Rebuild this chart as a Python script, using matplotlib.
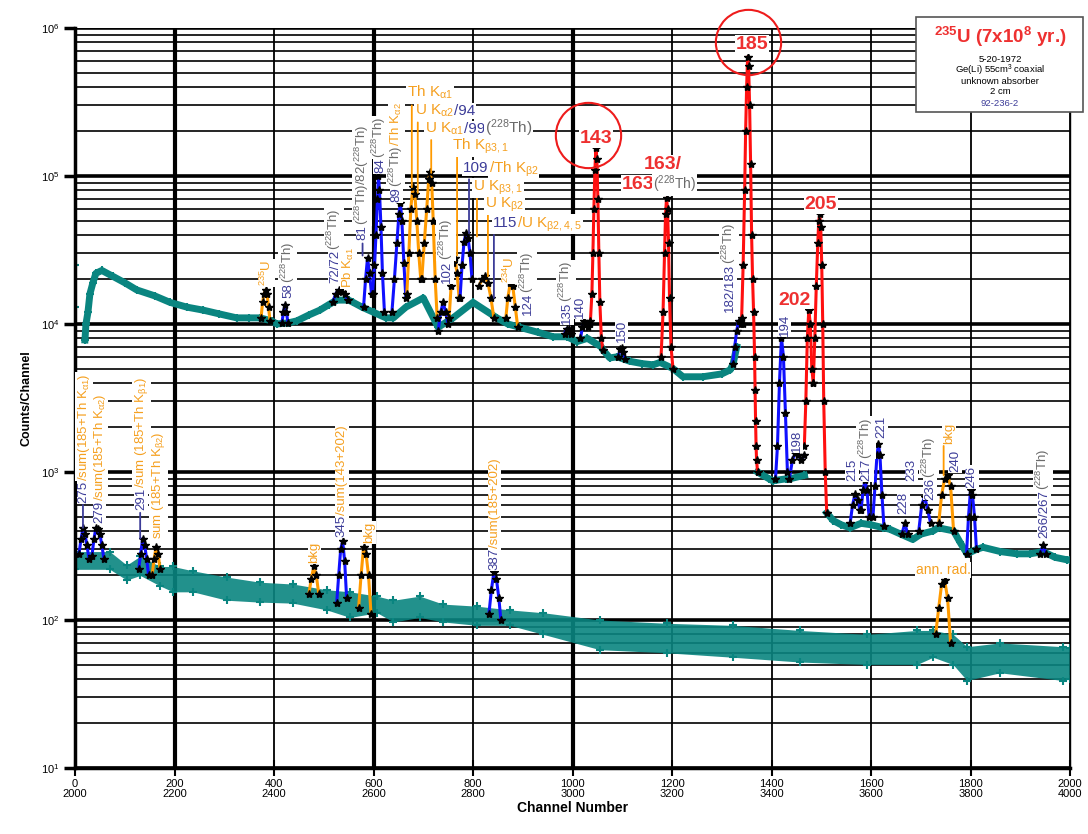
import numpy as np
import matplotlib
matplotlib.use('Agg')
import matplotlib.pyplot as plt
from matplotlib.patches import Rectangle
from matplotlib.transforms import ScaledTranslation

plt.rcParams['font.family'] = ['Liberation Sans', 'DejaVu Sans']
plt.rcParams['mathtext.fontset'] = 'custom'
plt.rcParams['mathtext.rm'] = 'Liberation Sans'
plt.rcParams['mathtext.it'] = 'Liberation Sans:italic'
plt.rcParams['mathtext.bf'] = 'Liberation Sans:bold'
plt.rcParams['mathtext.default'] = 'regular'

# ---- data ----
# upper trace: channels 0-2000 (continuum, nan = gap / hidden under big peaks)
upper_ch = [0, 0.5, 1, 19, 20, 22, 26, 30, 36, 42, 54, 76, 100, 124, 160, 191, 225, 258, 290, 325, 350, 372,
            395, 406, 430, 446, 470, 492, 510, 526, 550, 559, 577, 600, 625, 640, 665, 700, 730, 760,
            800, 848, 870, 894, 930, 961, 989, 1009, 1030, 1058, 1061, 1075, 1090, 1115, 1140, 1162,
            1176, 1202, 1222, 1262, 1300, 1317, 1323, 1330, 1350, 1372, 1383, 1395, 1403, 1410, 1430,
            1437, 1466, 1490, 1511, 1524, 1540, 1558, 1580, 1600, 1625, 1638, 1660, 1684, 1700, 1725,
            1735, 1766, 1779, 1793, 1812, 1825, 1860, 1893, 1920, 1946, 1970, 1994, 2000]
upper_counts = [2.5e4, np.nan, 1.3e4, np.nan, 7.8e3, 1.0e4, 1.2e4, 1.6e4, 1.9e4, 2.2e4, 2.3e4, 2.1e4, 1.9e4, 1.7e4,
                1.55e4, 1.4e4, 1.3e4, 1.24e4, 1.17e4, 1.1e4, 1.1e4, 1.1e4, 1.05e4, 1.0e4, 1.02e4,
                1.05e4, 1.15e4, 1.24e4, 1.35e4, 1.45e4, 1.45e4, 1.4e4, 1.3e4, 1.2e4, 1.1e4, 1.1e4,
                1.3e4, 1.5e4, 9.5e3, 1.1e4, 1.4e4, 1.1e4, 1.0e4, 9.5e3, 8.8e3, 8.2e3, 8.2e3, 7.6e3,
                8.0e3, 7.0e3, 6.7e3, 5.9e3, 6.0e3, 5.6e3, 5.4e3, 5.3e3, 5.5e3, 5.0e3, 4.4e3, 4.4e3,
                4.6e3, 4.9e3, 5.4e3, 7.0e3, np.nan, 1.0e3, 950, 900, 870, 880, 900, 900, 950, np.nan,
                530, 470, 440, 420, 450, 440, 420, 410, 380, 350, 380, 400, 420, 400, 335, 280, 300,
                310, 290, 280, 280, 290, 265, 255, 255]

# lower trace: channels 2000-4000 drawn on the same 0-2000 axis, as a scatter band
lower_ch = [0, 70, 104, 131, 171, 197, 237, 305, 372, 438, 506, 553, 607, 640, 693, 740, 808, 874,
            941, 1055, 1190, 1323, 1457, 1592, 1692, 1725, 1765, 1793, 1859, 1986, 2000]
lower_lo = [220, 220, 186, 200, 170, 155, 155, 136, 132, 130, 117, 104, 112, 97, 104, 97, 92, 92,
            80, 63, 60, 56, 52, 50, 50, 56, 50, 39, 44, 39, 40]
lower_hi = [290, 290, 235, 270, 230, 230, 215, 195, 180, 175, 160, 155, 145, 136, 145, 128, 124, 117,
            112, 100, 95, 92, 85, 80, 85, 85, 80, 66, 70, 66, 65]

# peaks of the upper trace: channel list, counts list
upper_peaks = {
    'U235':  ([374, 377, 380, 383, 386, 389, 392], [1.1e4, 1.4e4, 1.6e4, 1.7e4, 1.6e4, 1.3e4, 1.05e4]),
    '58':    ([416, 419, 422, 425, 428], [1.02e4, 1.2e4, 1.35e4, 1.2e4, 1.02e4]),
    '72':    ([518, 524, 530, 536, 542, 548], [1.4e4, 1.6e4, 1.7e4, 1.65e4, 1.6e4, 1.45e4]),
    '81':    ([580, 584, 588, 592, 596], [1.3e4, 2.0e4, 2.8e4, 2.2e4, 1.6e4]),
    '84':    ([598, 602, 605, 608, 610, 612, 615, 618, 622], [1.6e4, 2.5e4, 4e4, 7e4, 1.0e5, 8e4, 4.5e4, 2.2e4, 1.2e4]),
    '89':    ([637, 642, 647, 651, 654, 657, 661, 665], [1.2e4, 2e4, 3.5e4, 5.5e4, 6.6e4, 5e4, 2.6e4, 1.5e4]),
    '94':    ([667, 671, 675, 679, 683, 687, 691, 695], [1.6e4, 3e4, 6e4, 8.4e4, 7.5e4, 5e4, 3e4, 2e4]),
    '99':    ([697, 702, 707, 711, 714, 717, 720, 724, 728], [2e4, 3.5e4, 6e4, 9.5e4, 1.07e5, 9e4, 5e4, 2e4, 1.1e4]),
    '102':   ([730, 735, 740, 745, 750], [9e3, 1.2e4, 1.4e4, 1.2e4, 1.0e4]),
    '105':   ([752, 756, 760, 764, 768, 772], [1.1e4, 1.8e4, 2.6e4, 2.8e4, 2.2e4, 1.5e4]),
    '109':   ([774, 778, 782, 786, 790, 794, 798], [1.5e4, 2.5e4, 3.6e4, 4.1e4, 3.8e4, 3e4, 2e4]),
    '112':   ([812, 818, 824, 830, 836, 842], [1.8e4, 2e4, 2.1e4, 1.9e4, 1.5e4, 1.1e4]),
    '124':   ([866, 870, 875, 880, 885, 890], [1.1e4, 1.5e4, 1.9e4, 1.8e4, 1.3e4, 9.5e3]),
    '135':   ([984, 988, 992, 996], [8.6e3, 9.3e3, 9.2e3, 8.5e3]),
    '140':   ([1016, 1020, 1024, 1028, 1032, 1036], [8e3, 9.5e3, 1.05e4, 1.0e4, 9.5e3, 1.0e4]),
    '143':   ([1036, 1039, 1041, 1043, 1045, 1047, 1049, 1051, 1053, 1055, 1058, 1061],
              [1.05e4, 1.6e4, 3e4, 6e4, 1.1e5, 1.55e5, 1.3e5, 7e4, 3e4, 1.4e4, 8e3, 6.7e3]),
    '150':   ([1092, 1096, 1099, 1102, 1106], [6e3, 6.8e3, 6.9e3, 6.5e3, 5.8e3]),
    '163':   ([1178, 1182, 1185, 1187, 1189, 1191, 1193, 1195, 1198, 1202],
              [6e3, 1.2e4, 3e4, 5.5e4, 7.1e4, 6e4, 3.5e4, 1.5e4, 7e3, 5e3]),
    '182':   ([1322, 1326, 1330, 1334, 1338, 1342], [5.4e3, 7e3, 9e3, 1.05e4, 1.0e4, 1.0e4]),
    '185':   ([1340, 1343, 1346, 1348, 1350, 1352, 1354, 1356, 1358, 1360, 1362, 1364, 1366, 1367, 1368, 1369, 1370, 1372],
              [1.1e4, 2.5e4, 8e4, 2e5, 4e5, 6.4e5, 5.5e5, 3e5, 1.2e5, 4e4, 2e4, 1.2e4, 6e3, 3.6e3, 2.2e3, 1.5e3, 1.2e3, 1.0e3]),
    '194':   ([1408, 1412, 1416, 1420, 1424, 1428, 1432], [900, 1.5e3, 4e3, 8.1e3, 6e3, 2.5e3, 1e3]),
    '198':   ([1436, 1442, 1448, 1454, 1460, 1466], [900, 1.2e3, 1.35e3, 1.3e3, 1.2e3, 1.3e3]),
    '202':   ([1466, 1469, 1472, 1475, 1478, 1481, 1484], [1.5e3, 3e3, 8e3, 1.24e4, 1e4, 5e3, 4e3]),
    '205':   ([1484, 1487, 1490, 1493, 1495, 1497, 1499, 1501, 1503, 1505, 1508, 1511],
              [4e3, 8e3, 1.8e4, 3.5e4, 5e4, 5.5e4, 4.5e4, 2.5e4, 1e4, 3e3, 1e3, 530]),
    '215':   ([1558, 1563, 1568, 1573, 1578], [450, 600, 710, 650, 550]),
    '217':   ([1580, 1584, 1588, 1592, 1596], [550, 750, 880, 750, 500]),
    '221':   ([1604, 1608, 1612, 1615, 1618, 1622, 1626], [500, 800, 1.3e3, 1.55e3, 1.3e3, 700, 430]),
    '228':   ([1662, 1668, 1674], [380, 450, 380]),
    '236':   ([1696, 1702, 1708, 1714, 1720], [400, 600, 680, 550, 450]),
    '240':   ([1736, 1742, 1748, 1754, 1760, 1766], [450, 700, 900, 950, 800, 400]),
    '246':   ([1792, 1796, 1800, 1804, 1808, 1812], [280, 500, 750, 700, 500, 300]),
    '266':   ([1940, 1946, 1952], [280, 320, 280]),
}
# peaks of the lower trace (channel - 2000)
lower_peaks = {
    '275':   ([8, 12, 16, 20, 24, 28], [280, 350, 420, 380, 320, 260]),
    '279':   ([34, 38, 42, 46, 50, 54, 58], [270, 350, 420, 410, 380, 320, 260]),
    '291':   ([128, 132, 136, 140, 144, 148], [220, 280, 355, 320, 260, 200]),
    '292':   ([155, 159, 163, 167, 171], [200, 260, 310, 280, 220]),
    'bkg1':  ([470, 475, 480, 485, 490], [150, 190, 230, 200, 150]),
    '345':   ([526, 530, 534, 538, 542, 546], [130, 200, 300, 340, 250, 140]),
    'bkg2':  ([570, 575, 580, 585, 590, 595], [120, 200, 310, 280, 200, 110]),
    '387':   ([832, 837, 842, 847, 852, 856], [110, 160, 210, 190, 140, 100]),
    'ann':   ([1730, 1736, 1742, 1748, 1754, 1760], [80, 120, 175, 186, 140, 70]),
}

# ---- styles ----
TEAL = '#0a8580'
LRED, LBLUE, LORANGE = '#ff1010', '#1010ff', '#ff9a00'
TRED, TBLUE, TORANGE, TGRAY = '#ee3030', '#3c3c98', '#f5a020', '#6a6a6a'
red_peaks = {'143', '163', '185', '202', '205'}
orange_peaks = {'U235', '94', '99', '105', '112', '124', '240', '292', 'bkg1', 'bkg2', 'ann'}

def peak_color(name):
    if name in red_peaks:
        return LRED
    if name in orange_peaks:
        return LORANGE
    return LBLUE

fig = plt.figure(figsize=(10.88, 8.34), dpi=100)
ax = fig.add_axes([75 / 1088, 1 - 768 / 834, 995 / 1088, 740 / 834])
ax.set_yscale('log')
ax.set_xlim(0, 2000)
ax.set_ylim(10, 1e6)
ax.set_axisbelow(True)

# grid
ax.grid(which='major', axis='y', color='k', lw=2.6)
ax.grid(which='minor', axis='y', color='k', lw=1.2)
xt = np.arange(0, 2001, 200)
ax.set_xticks(xt)
ax.set_xticklabels([f'{v}\n{v + 2000}' for v in xt], fontsize=8, linespacing=0.95)
ax.grid(which='major', axis='x', color='k', lw=1.3)
for v, gl in zip(xt, ax.get_xgridlines()):
    if v in (200, 600, 1000):
        gl.set_linewidth(3)
ax.tick_params(axis='x', direction='inout', length=12, width=1.5, pad=2)
ax.tick_params(axis='y', which='major', direction='out', length=8, width=2.5, labelsize=8, pad=3)
ax.tick_params(axis='y', which='minor', length=0)
ax.spines['top'].set_visible(False)
ax.spines['left'].set_linewidth(2.5)
ax.spines['bottom'].set_linewidth(2.5)
ax.spines['right'].set_linewidth(1.0)
ax.set_ylabel('Counts/Channel', fontsize=9, fontweight='bold', labelpad=6)
ax.set_xlabel('Channel Number', fontsize=10, fontweight='bold', labelpad=2)

# lower spectrum band
ax.fill_between(lower_ch, lower_lo, lower_hi, color=TEAL, alpha=0.9, lw=0, zorder=2)
ax.plot(lower_ch, lower_lo, ls='none', marker='+', ms=6, mew=1.5, color=TEAL, zorder=2)
ax.plot(lower_ch, lower_hi, ls='none', marker='+', ms=6, mew=1.5, color=TEAL, zorder=2)

# upper spectrum continuum
ax.plot(upper_ch, upper_counts, color=TEAL, lw=5, marker='+', ms=6, mew=1.5, zorder=2)

for peaks in (upper_peaks, lower_peaks):
    for name, (ch, ct) in peaks.items():
        ax.plot(ch, ct, color=peak_color(name), lw=2.2, zorder=3)
        ax.plot(ch, ct, ls='none', marker='*', ms=6, color='k', zorder=4)

# ---- labels ----
fig.canvas.draw()
renderer = fig.canvas.get_renderer()
BOX = dict(facecolor='white', edgecolor='none', pad=0.6)

def label(ch, cnt, parts, rot=0, size=10, weight='normal', center=False):
    arts = []
    for s, c in parts:
        t = ax.text(ch, cnt, s, color=c, fontsize=size, fontweight=weight, rotation=rot,
                    rotation_mode='anchor', ha='left', va='baseline', bbox=BOX, zorder=7)
        arts.append(t)
    sizes = []
    for t in arts:
        bb = t.get_window_extent(renderer)
        sizes.append(bb.width if rot == 0 else bb.height)
    off = -sum(sizes) / 2 if center else 0.0
    perp = 0.36 * size * fig.dpi / 72 if rot == 90 else 0.0
    for t, w in zip(arts, sizes):
        dx, dy = (off, 0) if rot == 0 else (perp, off)
        t.set_transform(ax.transData + ScaledTranslation(dx / fig.dpi, dy / fig.dpi, fig.dpi_scale_trans))
        off += w

TH = '($^{228}$Th)'
# vertical labels: (channel, counts at bottom, parts)
vlabels_upper = [
    (384, 1.8e4, [('$^{235}$U', TORANGE)]),
    (426, 1.5e4, [('58', TBLUE), (TH, TGRAY)]),
    (519, 1.9e4, [('72/72', TBLUE), (TH, TGRAY)]),
    (547, 1.75e4, [('Pb K$_{\\alpha1}$', TORANGE)]),
    (575, 3.7e4, [('81', TBLUE), (TH + '/82' + TH, TGRAY)]),
    (610, 1.05e5, [('84', TBLUE), (TH, TGRAY)]),
    (643, 6.7e4, [('89', TBLUE), (TH, TGRAY), ('/Th K$_{\\alpha2}$', TORANGE)]),
    (744, 1.9e4, [('102', TBLUE), (TH, TGRAY)]),
    (872, 1.9e4, [('$^{234}$U', TORANGE)]),
    (907, 1.15e4, [('124', TBLUE), (TH, TGRAY)]),
    (985, 1.0e4, [('135', TBLUE), (TH, TGRAY)]),
    (1011, 1.1e4, [('140', TBLUE)]),
    (1095, 7.5e3, [('150', TBLUE)]),
    (1313, 1.2e4, [('182/183', TBLUE), (TH, TGRAY)]),
    (1423, 8.3e3, [('194', TBLUE)]),
    (1447, 1.37e3, [('198', TBLUE)]),
    (1558, 870, [('215', TBLUE)]),
    (1588, 870, [('217', TBLUE), (TH, TGRAY)]),
    (1618, 1.7e3, [('221', TBLUE)]),
    (1662, 520, [('228', TBLUE)]),
    (1678, 870, [('233', TBLUE)]),
    (1715, 650, [('236', TBLUE), (TH, TGRAY)]),
    (1753, 1.55e3, [('bkg', TORANGE)]),
    (1765, 1.0e3, [('240', TBLUE)]),
    (1799, 780, [('246', TBLUE)]),
    (1944, 360, [('266/267', TBLUE), (TH, TGRAY)]),
]
vlabels_lower = [
    (14, 620, [('275', TBLUE), ('/sum(185+Th K$_{\\alpha1}$)', TORANGE)]),
    (46, 450, [('279', TBLUE), ('/sum(185+Th K$_{\\alpha2}$)', TORANGE)]),
    (129, 550, [('291', TBLUE), ('/sum (185+Th K$_{\\beta1}$)', TORANGE)]),
    (163, 350, [('sum (185+Th K$_{\\beta2}$)', TORANGE)]),
    (478, 243, [('bkg', TORANGE)]),
    (533, 364, [('345', TBLUE), ('/sum(143+202)', TORANGE)]),
    (587, 331, [('bkg', TORANGE)]),
    (840, 218, [('387', TBLUE), ('/sum(185+202)', TORANGE)]),
]
# horizontal labels: (channel at left, counts at baseline, parts)
hlabels = [
    (667, 3.42e5, [('Th K$_{\\alpha1}$', TORANGE)]),
    (683, 2.58e5, [('U K$_{\\alpha2}$', TORANGE), ('/94', TBLUE)]),
    (703, 1.95e5, [('U K$_{\\alpha1}$', TORANGE), ('/99', TBLUE), (TH, TGRAY)]),
    (758, 1.5e5, [('Th K$_{\\beta3,1}$', TORANGE)]),
    (780, 1.06e5, [('109', TBLUE), ('/Th K$_{\\beta2}$', TORANGE)]),
    (800, 8.0e4, [('U K$_{\\beta3,1}$', TORANGE)]),
    (824, 6.1e4, [('U K$_{\\beta2}$', TORANGE)]),
    (840, 4.5e4, [('115', TBLUE), ('/U K$_{\\beta2,4,5}$', TORANGE)]),
]
# leader lines: (channel, counts from, counts to, colour)
leaders = [
    (677, 3.0e5, 8.4e4, LORANGE), (689, 2.3e5, 7.7e4, LORANGE), (716, 1.75e5, 1.05e5, LORANGE),
    (768, 1.35e5, 2.9e4, LORANGE), (792, 9.5e4, 4.1e4, TBLUE), (808, 7.2e4, 3.9e4, LORANGE),
    (830, 5.5e4, 2.1e4, LORANGE), (842, 4.0e4, 1.5e4, TBLUE), (578, 3.5e4, 2.9e4, TBLUE),
    (1746, 1.5e3, 950, LORANGE), (16, 600, 420, TBLUE), (131, 530, 355, TBLUE),
]
# big U-235 labels: (channel centre, counts baseline, parts)
big_labels = [
    (1047, 1.66e5, [('143', TRED)]),
    (1182, 1.12e5, [('163/', TRED)]),
    (1361, 7.2e5, [('185', TRED)]),
    (1447, 1.35e4, [('202', TRED)]),
    (1499, 6.0e4, [('205', TRED)]),
]
circled = [(1031, 1.89e5), (1353, 8.0e5)]

for ch, cnt, parts in vlabels_upper + vlabels_lower:
    label(ch, cnt, parts, rot=90, size=9.5)
for ch, cnt, parts in hlabels:
    label(ch, cnt, parts, size=11)
for ch, cnt, parts in big_labels:
    label(ch, cnt, parts, size=14, weight='bold', center=True)
label(1099, 8.2e4, [('163', TRED)], size=14, weight='bold')
ax.text(1162, 8.2e4, TH, color=TGRAY, fontsize=10, va='baseline', ha='left', bbox=BOX, zorder=7)
label(1745, 205, [('ann. rad.', TORANGE)], size=10, center=True)
for ch, c0, c1, col in leaders:
    ax.annotate('', xy=(ch, c1), xytext=(ch, c0),
                arrowprops=dict(arrowstyle='-', color=col, lw=1.3, shrinkA=0, shrinkB=0), zorder=6)
for ch, cnt in circled:
    ax.plot(ch, cnt, marker='o', ms=47, mfc='none', mec='#ee1c1c', mew=1.5, zorder=8, clip_on=False)

# info box
fig.add_artist(Rectangle((916 / 1088, 1 - 112 / 834), 167 / 1088, 95 / 834,
                         transform=fig.transFigure, fc='white', ec='#555555', lw=1.2, zorder=10))
bx = 1000 / 1088
fig.text(bx, 1 - 37 / 834, '$^{235}$U (7x10$^8$ yr.)', color=TRED, fontsize=13.5, fontweight='bold',
         ha='center', va='center', zorder=11)
info = ['5-20-1972', 'Ge(Li) 55cm$^3$ coaxial', 'unknown absorber', '2 cm']
for i, s in enumerate(info):
    fig.text(bx, 1 - (60 + 10.5 * i) / 834, s, fontsize=6.8, ha='center', va='center', zorder=11)
fig.text(bx, 1 - 103 / 834, '92-236-2', fontsize=6.8, color=TBLUE, ha='center', va='center', zorder=11)

fig.savefig('out.png', dpi=100)
